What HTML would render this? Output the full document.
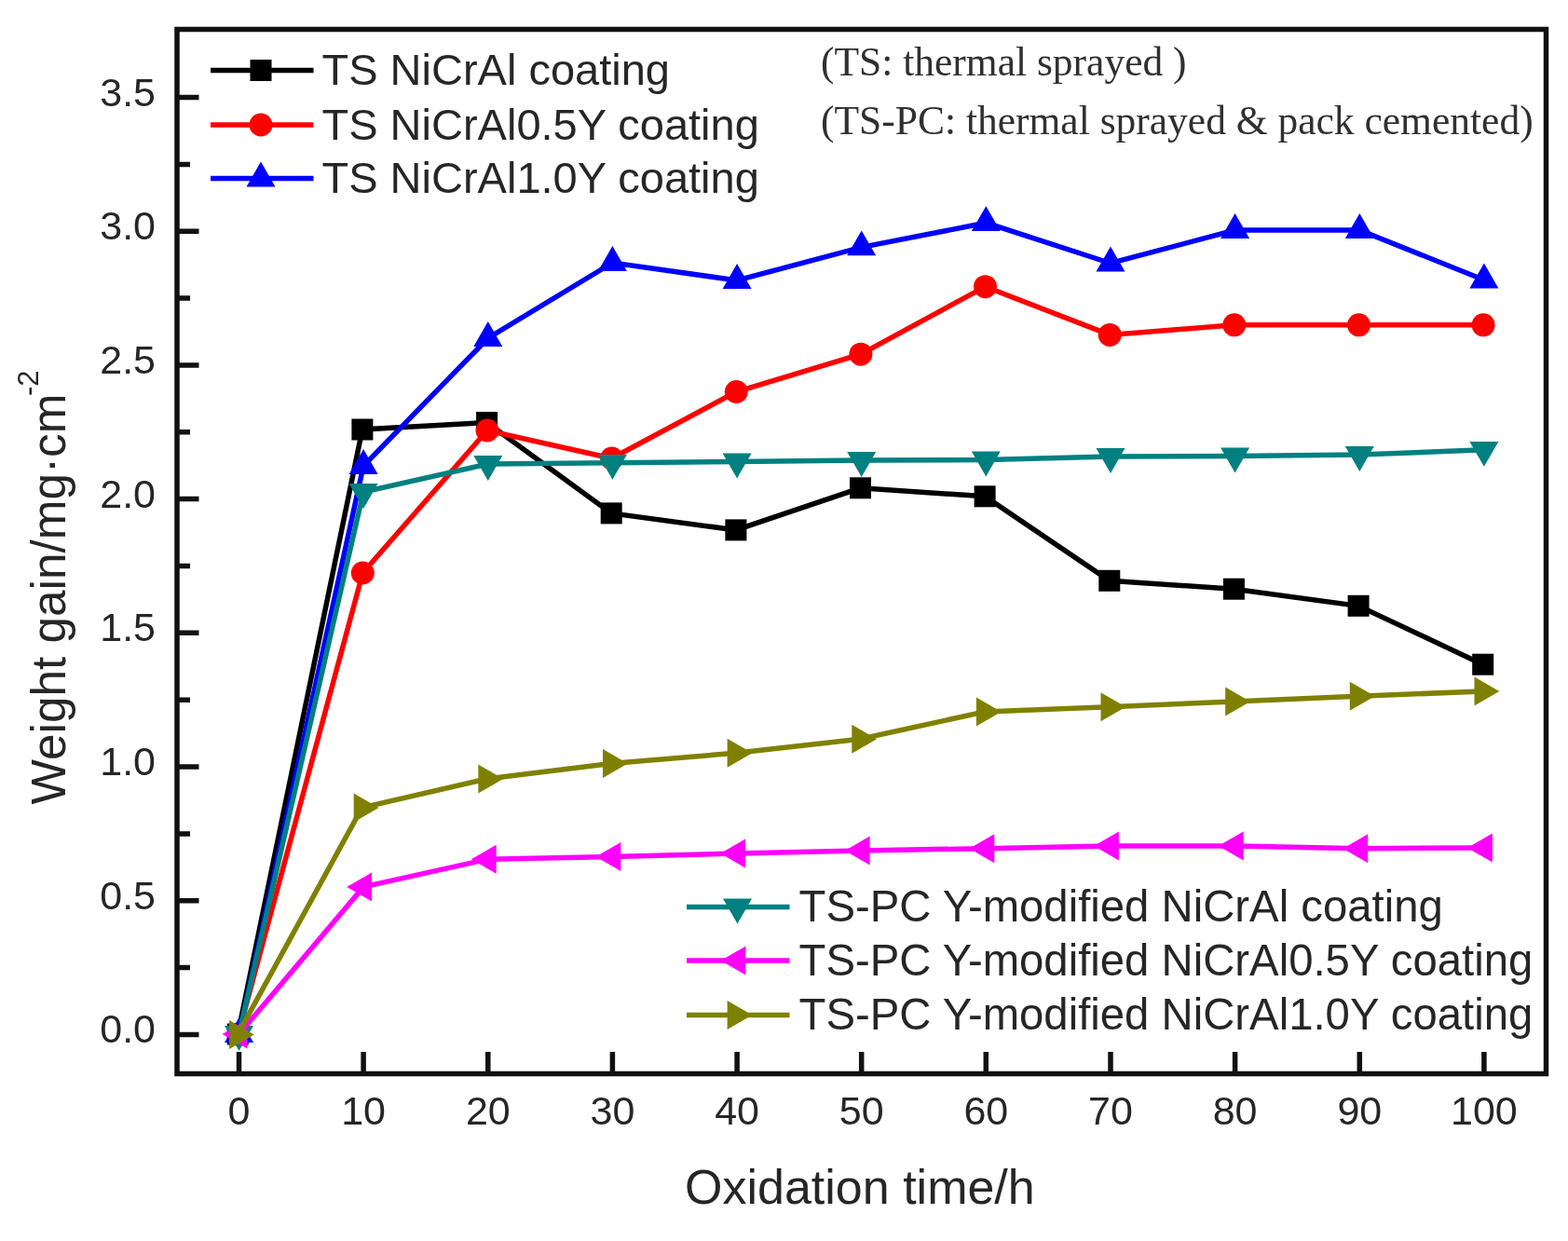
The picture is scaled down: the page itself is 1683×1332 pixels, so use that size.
<!DOCTYPE html>
<html><head><meta charset="utf-8"><title>Weight gain vs oxidation time</title>
<style>
html,body{margin:0;padding:0;background:#fff;}
svg{display:block;}
text{font-family:"Liberation Sans",Arial,sans-serif;fill:#262626;}
.serif{font-family:"Liberation Serif","Times New Roman",serif;fill:#303030;}
</style></head><body>
<svg width="1683" height="1332" viewBox="0 0 1683 1332">
<rect width="1683" height="1332" fill="#fff"/>
<path d="M190,1110.4H213.5 M190,1038.6H204 M190,966.7H213.5 M190,894.9H204 M190,823H213.5 M190,751.2H204 M190,679.3H213.5 M190,607.5H204 M190,535.6H213.5 M190,463.8H204 M190,391.9H213.5 M190,320.1H204 M190,248.2H213.5 M190,176.4H204 M190,104.5H213.5 M256.5,1152.5V1129 M390.1,1152.5V1129 M523.8,1152.5V1129 M657.4,1152.5V1129 M791.1,1152.5V1129 M924.7,1152.5V1129 M1058.3,1152.5V1129 M1192,1152.5V1129 M1325.6,1152.5V1129 M1459.3,1152.5V1129 M1592.9,1152.5V1129" stroke="#111" stroke-width="5.5" fill="none"/>
<text x="167" y="1119.4" font-size="43" text-anchor="end">0.0</text>
<text x="167" y="975.7" font-size="43" text-anchor="end">0.5</text>
<text x="167" y="832" font-size="43" text-anchor="end">1.0</text>
<text x="167" y="688.3" font-size="43" text-anchor="end">1.5</text>
<text x="167" y="544.6" font-size="43" text-anchor="end">2.0</text>
<text x="167" y="400.9" font-size="43" text-anchor="end">2.5</text>
<text x="167" y="257.2" font-size="43" text-anchor="end">3.0</text>
<text x="167" y="113.5" font-size="43" text-anchor="end">3.5</text>
<text x="256.5" y="1206.5" font-size="43" text-anchor="middle">0</text>
<text x="390.1" y="1206.5" font-size="43" text-anchor="middle">10</text>
<text x="523.8" y="1206.5" font-size="43" text-anchor="middle">20</text>
<text x="657.4" y="1206.5" font-size="43" text-anchor="middle">30</text>
<text x="791.1" y="1206.5" font-size="43" text-anchor="middle">40</text>
<text x="924.7" y="1206.5" font-size="43" text-anchor="middle">50</text>
<text x="1058.3" y="1206.5" font-size="43" text-anchor="middle">60</text>
<text x="1192" y="1206.5" font-size="43" text-anchor="middle">70</text>
<text x="1325.6" y="1206.5" font-size="43" text-anchor="middle">80</text>
<text x="1459.3" y="1206.5" font-size="43" text-anchor="middle">90</text>
<text x="1592.9" y="1206.5" font-size="43" text-anchor="middle">100</text>
<polyline points="255.3,1110 388.9,461 522.6,453.5 656.2,550.9 789.9,568.9 923.5,523.8 1057.1,532.8 1190.8,623.3 1324.4,632.2 1458.1,650.3 1591.7,713.2" fill="none" stroke="#000000" stroke-width="5.5" stroke-linejoin="miter"/>
<rect x="243.8" y="1098.5" width="23" height="23" fill="#000000"/><rect x="377.4" y="449.5" width="23" height="23" fill="#000000"/><rect x="511.1" y="442" width="23" height="23" fill="#000000"/><rect x="644.7" y="539.4" width="23" height="23" fill="#000000"/><rect x="778.4" y="557.4" width="23" height="23" fill="#000000"/><rect x="912" y="512.3" width="23" height="23" fill="#000000"/><rect x="1045.6" y="521.3" width="23" height="23" fill="#000000"/><rect x="1179.3" y="611.8" width="23" height="23" fill="#000000"/><rect x="1312.9" y="620.7" width="23" height="23" fill="#000000"/><rect x="1446.6" y="638.8" width="23" height="23" fill="#000000"/><rect x="1580.2" y="701.7" width="23" height="23" fill="#000000"/>
<polyline points="255.7,1110 389.3,615 523,462 656.6,492 790.3,420.5 923.9,380.2 1057.5,307.7 1191.2,359.4 1324.8,348.8 1458.5,348.8 1592.1,348.8" fill="none" stroke="#ff0000" stroke-width="5.5" stroke-linejoin="miter"/>
<circle cx="255.7" cy="1110" r="12.5" fill="#ff0000"/><circle cx="389.3" cy="615" r="12.5" fill="#ff0000"/><circle cx="523" cy="462" r="12.5" fill="#ff0000"/><circle cx="656.6" cy="492" r="12.5" fill="#ff0000"/><circle cx="790.3" cy="420.5" r="12.5" fill="#ff0000"/><circle cx="923.9" cy="380.2" r="12.5" fill="#ff0000"/><circle cx="1057.5" cy="307.7" r="12.5" fill="#ff0000"/><circle cx="1191.2" cy="359.4" r="12.5" fill="#ff0000"/><circle cx="1324.8" cy="348.8" r="12.5" fill="#ff0000"/><circle cx="1458.5" cy="348.8" r="12.5" fill="#ff0000"/><circle cx="1592.1" cy="348.8" r="12.5" fill="#ff0000"/>
<polyline points="256.5,1110 390.1,500 523.8,363 657.4,282 791.1,301 924.7,265.4 1058.3,239.2 1192,282.5 1325.6,247 1459.3,247 1592.9,300.5" fill="none" stroke="#0000ff" stroke-width="5.5" stroke-linejoin="miter"/>
<polygon points="256.5,1092.1 272,1118.9 241,1118.9" fill="#0000ff"/><polygon points="390.1,482.1 405.6,508.9 374.6,508.9" fill="#0000ff"/><polygon points="523.8,345.1 539.3,371.9 508.3,371.9" fill="#0000ff"/><polygon points="657.4,264.1 672.9,290.9 641.9,290.9" fill="#0000ff"/><polygon points="791.1,283.1 806.6,309.9 775.6,309.9" fill="#0000ff"/><polygon points="924.7,247.5 940.2,274.3 909.2,274.3" fill="#0000ff"/><polygon points="1058.3,221.3 1073.8,248.1 1042.8,248.1" fill="#0000ff"/><polygon points="1192,264.6 1207.5,291.4 1176.5,291.4" fill="#0000ff"/><polygon points="1325.6,229.1 1341.1,255.9 1310.1,255.9" fill="#0000ff"/><polygon points="1459.3,229.1 1474.8,255.9 1443.8,255.9" fill="#0000ff"/><polygon points="1592.9,282.6 1608.4,309.4 1577.4,309.4" fill="#0000ff"/>
<polyline points="256.5,1110 390.1,528 523.8,498 657.4,496.8 791.1,495.5 924.7,494 1058.3,493.5 1192,490 1325.6,489.5 1459.3,488 1592.9,482.8" fill="none" stroke="#008080" stroke-width="5.5" stroke-linejoin="miter"/>
<polygon points="256.5,1127.9 272,1101.1 241,1101.1" fill="#008080"/><polygon points="390.1,545.9 405.6,519.1 374.6,519.1" fill="#008080"/><polygon points="523.8,515.9 539.3,489.1 508.3,489.1" fill="#008080"/><polygon points="657.4,514.7 672.9,487.9 641.9,487.9" fill="#008080"/><polygon points="791.1,513.4 806.6,486.6 775.6,486.6" fill="#008080"/><polygon points="924.7,511.9 940.2,485.1 909.2,485.1" fill="#008080"/><polygon points="1058.3,511.4 1073.8,484.6 1042.8,484.6" fill="#008080"/><polygon points="1192,507.9 1207.5,481.1 1176.5,481.1" fill="#008080"/><polygon points="1325.6,507.4 1341.1,480.6 1310.1,480.6" fill="#008080"/><polygon points="1459.3,505.9 1474.8,479.1 1443.8,479.1" fill="#008080"/><polygon points="1592.9,500.7 1608.4,473.9 1577.4,473.9" fill="#008080"/>
<polyline points="256.5,1110 390.1,951.9 523.8,922.2 657.4,919.5 791.1,916 924.7,912.9 1058.3,910.7 1192,907.9 1325.6,907.9 1459.3,910.7 1592.9,910" fill="none" stroke="#ff00ff" stroke-width="5.5" stroke-linejoin="miter"/>
<polygon points="238.6,1110 265.4,1094.5 265.4,1125.5" fill="#ff00ff"/><polygon points="372.2,951.9 399.1,936.4 399.1,967.4" fill="#ff00ff"/><polygon points="505.9,922.2 532.7,906.7 532.7,937.7" fill="#ff00ff"/><polygon points="639.5,919.5 666.4,904 666.4,935" fill="#ff00ff"/><polygon points="773.2,916 800,900.5 800,931.5" fill="#ff00ff"/><polygon points="906.8,912.9 933.6,897.4 933.6,928.4" fill="#ff00ff"/><polygon points="1040.4,910.7 1067.3,895.2 1067.3,926.2" fill="#ff00ff"/><polygon points="1174.1,907.9 1200.9,892.4 1200.9,923.4" fill="#ff00ff"/><polygon points="1307.7,907.9 1334.6,892.4 1334.6,923.4" fill="#ff00ff"/><polygon points="1441.4,910.7 1468.2,895.2 1468.2,926.2" fill="#ff00ff"/><polygon points="1575,910 1601.8,894.5 1601.8,925.5" fill="#ff00ff"/>
<polyline points="255,1110.6 388.6,866.9 522.3,836 655.9,819.4 789.6,808.3 923.2,793.2 1056.8,764 1190.5,758.7 1324.1,753 1457.8,747.3 1591.4,741.9" fill="none" stroke="#808000" stroke-width="5.5" stroke-linejoin="miter"/>
<polygon points="272.9,1110.6 246.1,1095.1 246.1,1126.1" fill="#808000"/><polygon points="406.5,866.9 379.7,851.4 379.7,882.4" fill="#808000"/><polygon points="540.2,836 513.3,820.5 513.3,851.5" fill="#808000"/><polygon points="673.8,819.4 647,803.9 647,834.9" fill="#808000"/><polygon points="807.5,808.3 780.6,792.8 780.6,823.8" fill="#808000"/><polygon points="941.1,793.2 914.3,777.7 914.3,808.7" fill="#808000"/><polygon points="1074.7,764 1047.9,748.5 1047.9,779.5" fill="#808000"/><polygon points="1208.4,758.7 1181.5,743.2 1181.5,774.2" fill="#808000"/><polygon points="1342,753 1315.2,737.5 1315.2,768.5" fill="#808000"/><polygon points="1475.7,747.3 1448.8,731.8 1448.8,762.8" fill="#808000"/><polygon points="1609.3,741.9 1582.5,726.4 1582.5,757.4" fill="#808000"/>
<rect x="190" y="31.5" width="1469.5" height="1121" fill="none" stroke="#111" stroke-width="5.5"/>
<line x1="226" y1="75.5" x2="336.5" y2="75.5" stroke="#000000" stroke-width="5.5"/><rect x="268.5" y="64" width="23" height="23" fill="#000000"/><text x="345.5" y="91" font-size="47">TS NiCrAl coating</text>
<line x1="226" y1="134" x2="336.5" y2="134" stroke="#ff0000" stroke-width="5.5"/><circle cx="280" cy="134" r="12.5" fill="#ff0000"/><text x="345.5" y="149.5" font-size="47">TS NiCrAl0.5Y coating</text>
<line x1="226" y1="191.5" x2="336.5" y2="191.5" stroke="#0000ff" stroke-width="5.5"/><polygon points="280,173.6 295.5,200.4 264.5,200.4" fill="#0000ff"/><text x="345.5" y="207" font-size="47">TS NiCrAl1.0Y coating</text>
<line x1="737" y1="973.5" x2="847.5" y2="973.5" stroke="#008080" stroke-width="5.5"/><polygon points="791.5,991.4 807,964.6 776,964.6" fill="#008080"/><text x="857.5" y="989" font-size="47.3">TS-PC Y-modified NiCrAl coating</text>
<line x1="737" y1="1031" x2="847.5" y2="1031" stroke="#ff00ff" stroke-width="5.5"/><polygon points="773.6,1031 800.4,1015.5 800.4,1046.5" fill="#ff00ff"/><text x="857.5" y="1046.5" font-size="47.3">TS-PC Y-modified NiCrAl0.5Y coating</text>
<line x1="737" y1="1089.5" x2="847.5" y2="1089.5" stroke="#808000" stroke-width="5.5"/><polygon points="807.4,1089.5 780.6,1074 780.6,1105" fill="#808000"/><text x="857.5" y="1105" font-size="47.3">TS-PC Y-modified NiCrAl1.0Y coating</text>
<text class="serif" x="881" y="81" font-size="43.5">(TS: thermal sprayed )</text>
<text class="serif" x="881" y="143.5" font-size="43.5">(TS-PC: thermal sprayed &amp; pack cemented)</text>
<text x="735" y="1292" font-size="52">Oxidation time/h</text>
<text transform="translate(69.5,863.5) rotate(-90)" font-size="51.3">Weight gain/mg&#183;cm<tspan x="438.5" dy="-28.3" font-size="31">-2</tspan></text>
</svg>
</body></html>
